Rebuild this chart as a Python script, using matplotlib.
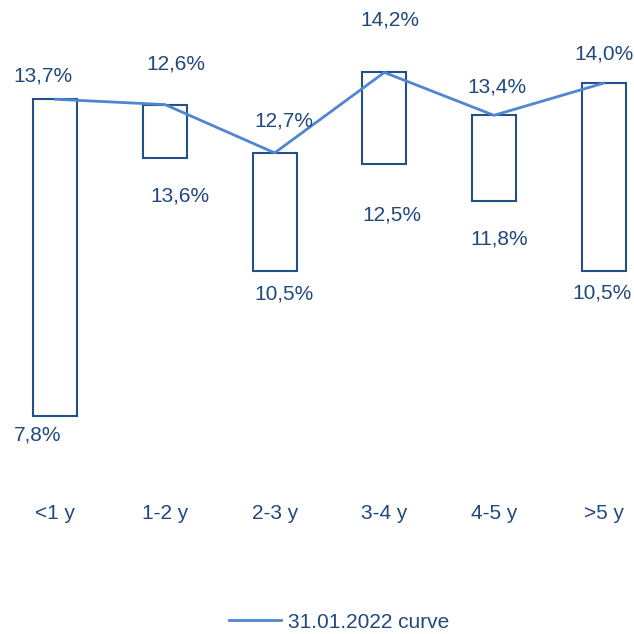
import matplotlib
matplotlib.use('Agg')
import matplotlib.pyplot as plt

plt.rcParams['font.family'] = ['Liberation Sans', 'DejaVu Sans']

# data
categories = ['<1 y', '1-2 y', '2-3 y', '3-4 y', '4-5 y', '>5 y']
upper_vals = [13.7, 12.6, 12.7, 14.2, 13.4, 14.0]   # labels drawn above bar
lower_vals = [7.8, 13.6, 10.5, 12.5, 11.8, 10.5]    # labels drawn below bar
curve_vals = [13.7, 13.6, 12.7, 14.2, 13.4, 14.0]
curve_name = '31.01.2022 curve'

# label nudges (pixels), as placed in the original
upper_offsets = [(-12, 23), (11, 41), (9, 32), (6, 52), (3, 28), (0, 29)]
lower_offsets = [(-18, -19), (15, -38), (9, -23), (8, -51), (5, -38), (-2, -22)]

text_color = '#1F497D'
bar_color = '#24508A'
line_color = '#4F86D0'

fig = plt.figure(figsize=(6.34, 6.34), dpi=100)
ax = fig.add_axes([0, 1 - 490 / 634, 1, 490 / 634])

x = list(range(len(categories)))
tops = [max(a, b) for a, b in zip(upper_vals, lower_vals)]
bottoms = [min(a, b) for a, b in zip(upper_vals, lower_vals)]
heights = [t - b for t, b in zip(tops, bottoms)]

ax.bar(x, heights, bottom=bottoms, width=0.4, fill=False,
       edgecolor=bar_color, linewidth=1.5)
line, = ax.plot(x, curve_vals, color=line_color, linewidth=2.0, label=curve_name)

def fmt(v):
    return f"{v:.1f}%".replace('.', ',')

for i in x:
    ax.annotate(fmt(upper_vals[i]), (i, tops[i]), xytext=upper_offsets[i],
                textcoords='offset pixels', ha='center', va='center',
                fontsize=15, color=text_color, annotation_clip=False)
    ax.annotate(fmt(lower_vals[i]), (i, bottoms[i]), xytext=lower_offsets[i],
                textcoords='offset pixels', ha='center', va='center',
                fontsize=15, color=text_color, annotation_clip=False)

ax.set_xlim(-0.505, 5.277)
ax.set_ylim(6.415, 15.55)
ax.set_xticks(x)
ax.set_xticklabels(categories, fontsize=15, color=text_color)
ax.tick_params(axis='x', length=0, pad=10)
ax.set_yticks([])
for s in ax.spines.values():
    s.set_visible(False)
ax.patch.set_alpha(0)

fig.legend(handles=[line], loc='center', bbox_to_anchor=(339 / 634, 1 - 622 / 634),
           frameon=False, fontsize=15, handlelength=2.5, handletextpad=0.35,
           labelcolor=text_color)

fig.savefig('out.png', dpi=100)
